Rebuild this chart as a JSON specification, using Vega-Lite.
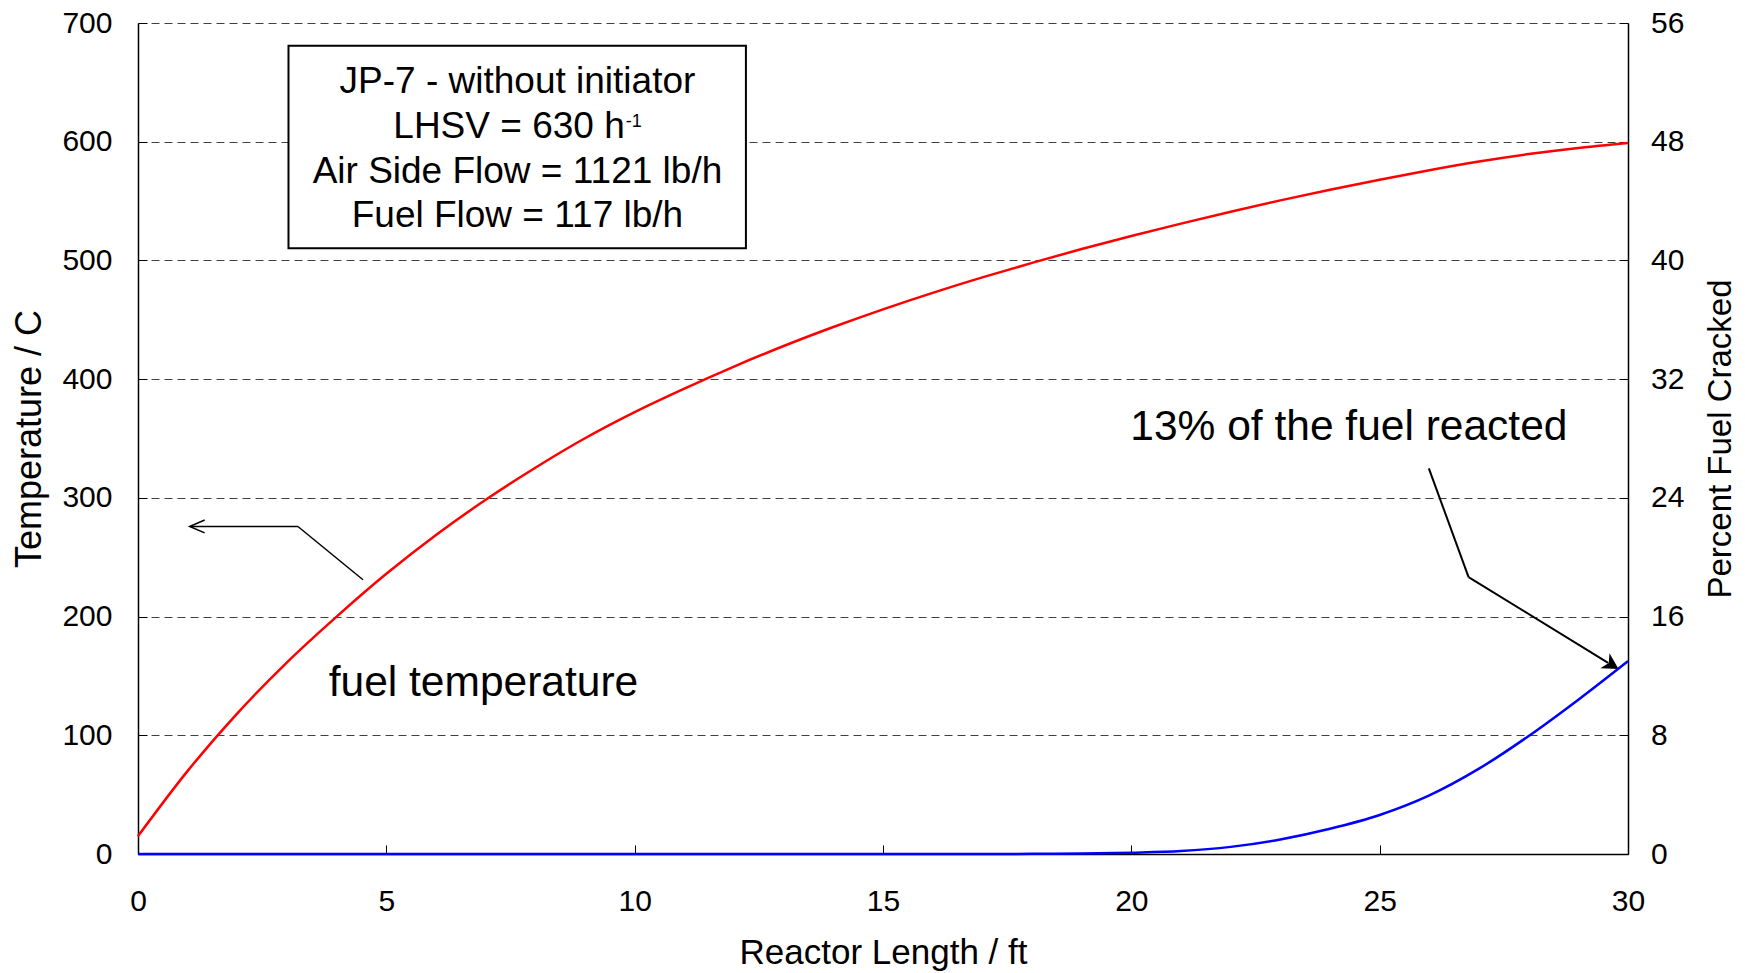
{
  "$schema": "https://vega.github.io/schema/vega-lite/v6.json",
  "width": 1490,
  "height": 831,
  "autosize": {"type": "none"},
  "padding": {"left": 138, "top": 23, "right": 117, "bottom": 119},
  "background": "white",
  "datasets": {
    "temperature": [
      {"length_ft": 0, "temp_c": 15},
      {"length_ft": 1, "temp_c": 70},
      {"length_ft": 2, "temp_c": 118.5},
      {"length_ft": 3, "temp_c": 161.5},
      {"length_ft": 4, "temp_c": 200},
      {"length_ft": 5, "temp_c": 236},
      {"length_ft": 6, "temp_c": 268.7},
      {"length_ft": 7, "temp_c": 298.4},
      {"length_ft": 8, "temp_c": 325.4},
      {"length_ft": 9, "temp_c": 350.2},
      {"length_ft": 10, "temp_c": 372.2},
      {"length_ft": 11, "temp_c": 392},
      {"length_ft": 12, "temp_c": 410.6},
      {"length_ft": 13, "temp_c": 427.9},
      {"length_ft": 14, "temp_c": 443.9},
      {"length_ft": 15, "temp_c": 458.8},
      {"length_ft": 16, "temp_c": 472.7},
      {"length_ft": 17, "temp_c": 485.7},
      {"length_ft": 18, "temp_c": 497.9},
      {"length_ft": 19, "temp_c": 509.6},
      {"length_ft": 20, "temp_c": 520.6},
      {"length_ft": 21, "temp_c": 531},
      {"length_ft": 22, "temp_c": 541},
      {"length_ft": 23, "temp_c": 550.6},
      {"length_ft": 24, "temp_c": 559.6},
      {"length_ft": 25, "temp_c": 568},
      {"length_ft": 26, "temp_c": 576},
      {"length_ft": 27, "temp_c": 583.3},
      {"length_ft": 28, "temp_c": 589.6},
      {"length_ft": 29, "temp_c": 594.8},
      {"length_ft": 30, "temp_c": 599}
    ],
    "cracked": [
      {"length_ft": 0, "pct": 0},
      {"length_ft": 5, "pct": 0},
      {"length_ft": 10, "pct": 0},
      {"length_ft": 15, "pct": 0},
      {"length_ft": 17, "pct": 0},
      {"length_ft": 18, "pct": 0.01},
      {"length_ft": 19, "pct": 0.03},
      {"length_ft": 20, "pct": 0.09},
      {"length_ft": 21, "pct": 0.2},
      {"length_ft": 22, "pct": 0.48},
      {"length_ft": 23, "pct": 0.98},
      {"length_ft": 24, "pct": 1.7},
      {"length_ft": 25, "pct": 2.63},
      {"length_ft": 26, "pct": 3.95},
      {"length_ft": 27, "pct": 5.75},
      {"length_ft": 28, "pct": 7.95},
      {"length_ft": 29, "pct": 10.4},
      {"length_ft": 30, "pct": 13}
    ]
  },
  "layer": [
    {
      "layer": [
        {
          "data": {"name": "temperature"},
          "mark": {"type": "line", "color": "#FF0000", "strokeWidth": 2.5, "interpolate": "monotone"},
          "encoding": {
            "x": {
              "field": "length_ft", "type": "quantitative",
              "scale": {"domain": [0, 30], "nice": false},
              "axis": {
                "values": [0, 5, 10, 15, 20, 25, 30], "grid": false,
                "title": "Reactor Length / ft", "titleFontSize": 35,
                "labelPadding": 41, "titlePadding": 19
              }
            },
            "y": {
              "field": "temp_c", "type": "quantitative",
              "scale": {"domain": [0, 700], "nice": false},
              "axis": {
                "values": [0, 100, 200, 300, 400, 500, 600, 700], "grid": true,
                "title": "Temperature / C", "titleFontSize": 36,
                "labelPadding": 35, "titlePadding": 13
              }
            }
          }
        },
        {
          "data": {"values": [{}]},
          "mark": {"type": "rect", "fill": "white", "stroke": "black", "strokeWidth": 2},
          "encoding": {
            "x": {"datum": 3.03, "type": "quantitative"},
            "x2": {"datum": 12.24},
            "y": {"datum": 680.9, "type": "quantitative"},
            "y2": {"datum": 510.3}
          }
        },
        {
          "data": {"values": [{}]},
          "mark": {"type": "text", "text": "JP-7 - without initiator", "fontSize": 37, "align": "center", "baseline": "alphabetic", "color": "black"},
          "encoding": {
            "x": {"datum": 7.64, "type": "quantitative"},
            "y": {"datum": 640.8, "type": "quantitative"}
          }
        },
        {
          "data": {"values": [{}]},
          "mark": {"type": "text", "text": "LHSV = 630 h", "fontSize": 37, "align": "right", "baseline": "alphabetic", "color": "black"},
          "encoding": {
            "x": {"datum": 9.8, "type": "quantitative"},
            "y": {"datum": 602.9, "type": "quantitative"}
          }
        },
        {
          "data": {"values": [{}]},
          "mark": {"type": "text", "text": "-1", "fontSize": 18, "align": "left", "baseline": "alphabetic", "color": "black"},
          "encoding": {
            "x": {"datum": 9.82, "type": "quantitative"},
            "y": {"datum": 612.7, "type": "quantitative"}
          }
        },
        {
          "data": {"values": [{}]},
          "mark": {"type": "text", "text": "Air Side Flow = 1121 lb/h", "fontSize": 37, "align": "center", "baseline": "alphabetic", "color": "black"},
          "encoding": {
            "x": {"datum": 7.64, "type": "quantitative"},
            "y": {"datum": 565.5, "type": "quantitative"}
          }
        },
        {
          "data": {"values": [{}]},
          "mark": {"type": "text", "text": "Fuel Flow = 117 lb/h", "fontSize": 37, "align": "center", "baseline": "alphabetic", "color": "black"},
          "encoding": {
            "x": {"datum": 7.64, "type": "quantitative"},
            "y": {"datum": 528.5, "type": "quantitative"}
          }
        },
        {
          "data": {"values": [{}]},
          "mark": {"type": "text", "text": "fuel temperature", "fontSize": 42.5, "align": "left", "baseline": "alphabetic", "color": "black"},
          "encoding": {
            "x": {"datum": 3.84, "type": "quantitative"},
            "y": {"datum": 132.7, "type": "quantitative"}
          }
        },
        {
          "data": {"values": [{}]},
          "mark": {"type": "text", "text": "13% of the fuel reacted", "fontSize": 42.5, "align": "left", "baseline": "alphabetic", "color": "black"},
          "encoding": {
            "x": {"datum": 19.98, "type": "quantitative"},
            "y": {"datum": 349, "type": "quantitative"}
          }
        },
        {
          "data": {"values": [{}]},
          "mark": {"type": "rule", "color": "black", "strokeWidth": 1.5},
          "encoding": {
            "x": {"datum": 4.53, "type": "quantitative"},
            "y": {"datum": 231, "type": "quantitative"},
            "x2": {"datum": 3.22},
            "y2": {"datum": 275.9}
          }
        },
        {
          "data": {"values": [{}]},
          "mark": {"type": "rule", "color": "black", "strokeWidth": 1.5},
          "encoding": {
            "x": {"datum": 3.22, "type": "quantitative"},
            "y": {"datum": 275.9, "type": "quantitative"},
            "x2": {"datum": 1.06},
            "y2": {"datum": 275.9}
          }
        },
        {
          "data": {"values": [{}]},
          "mark": {"type": "point", "shape": "M -1 -0.43 L 0 0 L -1 0.43", "filled": false, "stroke": "black", "strokeWidth": 1.5, "size": 900, "angle": 180, "opacity": 1},
          "encoding": {
            "x": {"datum": 1.04, "type": "quantitative"},
            "y": {"datum": 275.9, "type": "quantitative"}
          }
        },
        {
          "data": {"values": [{}]},
          "mark": {"type": "rule", "color": "black", "strokeWidth": 2},
          "encoding": {
            "x": {"datum": 25.99, "type": "quantitative"},
            "y": {"datum": 324.9, "type": "quantitative"},
            "x2": {"datum": 26.79},
            "y2": {"datum": 233.2}
          }
        },
        {
          "data": {"values": [{}]},
          "mark": {"type": "rule", "color": "black", "strokeWidth": 2},
          "encoding": {
            "x": {"datum": 26.79, "type": "quantitative"},
            "y": {"datum": 233.2, "type": "quantitative"},
            "x2": {"datum": 29.6},
            "y2": {"datum": 161}
          }
        },
        {
          "data": {"values": [{}]},
          "mark": {"type": "point", "shape": "M 0 0 L -1 -0.55 L -0.72 0 L -1 0.55 Z", "filled": true, "color": "black", "strokeWidth": 0, "size": 1024, "angle": 31.5, "opacity": 1},
          "encoding": {
            "x": {"datum": 29.81, "type": "quantitative"},
            "y": {"datum": 155.8, "type": "quantitative"}
          }
        }
      ]
    },
    {
      "data": {"name": "cracked"},
      "mark": {"type": "line", "color": "#0000FF", "strokeWidth": 2.5, "interpolate": "monotone"},
      "encoding": {
        "x": {"field": "length_ft", "type": "quantitative"},
        "y": {
          "field": "pct", "type": "quantitative",
          "scale": {"domain": [0, 56], "nice": false},
          "axis": {
            "orient": "right",
            "values": [0, 8, 16, 24, 32, 40, 48, 56], "grid": false,
            "title": "Percent Fuel Cracked", "titleFontSize": 33,
            "titleAngle": 270, "titleBaseline": "top",
            "labelPadding": 31.5, "titlePadding": 21
          }
        }
      }
    }
  ],
  "resolve": {"scale": {"y": "independent"}},
  "config": {
    "font": "Liberation Sans",
    "view": {"stroke": null},
    "axis": {
      "domainColor": "black",
      "domainWidth": 1.5,
      "tickColor": "black",
      "tickWidth": 1,
      "tickSize": -9,
      "labelColor": "black",
      "labelFontSize": 30,
      "labelFont": "Liberation Sans",
      "labelFlush": false,
      "labelOverlap": false,
      "labelBound": false,
      "titleColor": "black",
      "titleFont": "Liberation Sans",
      "titleFontWeight": "normal",
      "gridColor": "#404040",
      "gridDash": [8, 5],
      "gridWidth": 1,
      "gridOpacity": 1
    }
  }
}
